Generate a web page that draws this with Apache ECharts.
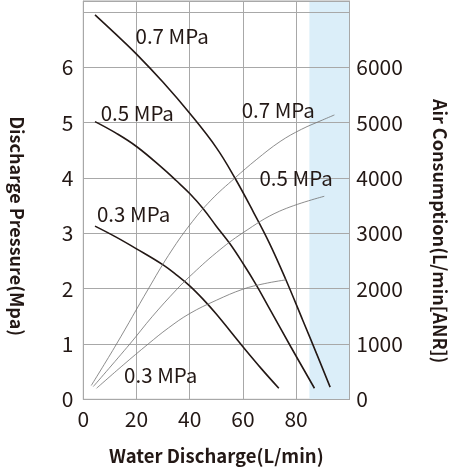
<!DOCTYPE html>
<html><head><meta charset="utf-8">
<script src="https://cdn.jsdelivr.net/npm/echarts@6/dist/echarts.min.js"></script>
<style>html,body{margin:0;padding:0;background:#fff}#c{width:466px;height:470px}</style>
</head><body><div id="c"></div>
<script>
// Discharge pressure curves (x: water discharge L/min, y: discharge pressure)
const pressure07 = [[4.4,6.95],[12,6.61],[20,6.24],[30,5.73],[40,5.17],[50,4.55],[57,4.0],[64,3.38],[70,2.82],[76,2.18],[82.5,1.43],[88,0.79],[92.8,0.22]];
const pressure05 = [[4.4,5.02],[12,4.82],[20,4.57],[30,4.17],[35,3.95],[40,3.72],[45,3.45],[50,3.13],[55,2.82],[60,2.46],[65,2.07],[70,1.64],[78,0.95],[86.9,0.2]];
const pressure03 = [[4.4,3.13],[12,2.94],[20,2.72],[30,2.43],[35,2.25],[40,2.05],[45,1.81],[50,1.54],[60,0.95],[67,0.55],[73.5,0.2]];
// Air consumption curves (x: water discharge L/min, y: L/min[ANR])
const air07 = [[3,250],[12.5,1000],[24.5,2000],[32,2600],[40,3150],[48,3600],[57,4000],[65,4330],[74,4660],[82,4880],[90,5050],[94.4,5140]];
const air05 = [[3.75,230],[17.5,1000],[26,1500],[35,1980],[40,2220],[50,2650],[60,3010],[73.75,3400],[90.6,3670]];
const air03 = [[5,200],[15,620],[24.4,1000],[32,1290],[40,1550],[50,1790],[60,1990],[68,2090],[76.25,2160]];
// Curve labels
const pressureLabels = ['0.7 MPa','0.5 MPa','0.3 MPa'];
const pressureLabelAt = [[33.4,6.57],[20.3,5.17],[18.9,3.35]];
const airLabels = ['0.7 MPa','0.5 MPa','0.3 MPa'];
const airLabelAt = [[73.3,5220],[80,4000],[29.1,430]];
// Axis ticks
const xTicks = [0,20,40,60,80];
const leftTicks = [0,1,2,3,4,5,6];
const rightTicks = [0,1000,2000,3000,4000,5000,6000];
const shadedRange = [85,100];

const FONT = '"Noto Sans CJK JP","Noto Sans",sans-serif';
const TXT = '#231815';
const GRIDC = '#a8a8a8';

function labelMark(text, at){
  return {
    symbol:'circle', symbolSize:0, silent:true,
    label:{show:true, position:'inside', formatter:text, color:TXT, fontSize:20.5, fontFamily:FONT},
    data:[{coord:at, value:text}]
  };
}
const pSets=[pressure07,pressure05,pressure03];
const aSets=[air07,air05,air03];
const series=[];
series.push({type:'line', data:[], xAxisIndex:0, yAxisIndex:0, silent:true,
  markArea:{silent:true, itemStyle:{color:'#dbeef9'}, data:[[{xAxis:shadedRange[0]},{xAxis:shadedRange[1]}]]}});
pSets.forEach((d,i)=>series.push({type:'line', data:d, yAxisIndex:0, showSymbol:false, smooth:0.4,
  lineStyle:{color:'#231815', width:1.6}, markPoint:labelMark(pressureLabels[i], pressureLabelAt[i])}));
aSets.forEach((d,i)=>series.push({type:'line', data:d, yAxisIndex:1, showSymbol:false, smooth:0.4,
  lineStyle:{color:'#707070', width:0.8}, markPoint:labelMark(airLabels[i], airLabelAt[i])}));

const chart = echarts.init(document.getElementById('c'), null, {renderer:'canvas'});
chart.setOption({
  animation:false,
  grid:{left:83.3, right:116.7, top:1, bottom:70.7, show:true, borderColor:GRIDC, borderWidth:1},
  xAxis:{type:'value', min:0, max:100, interval:20, z:3,
    name:'Water Discharge(L/min)', nameLocation:'middle', nameGap:47,
    nameTextStyle:{fontFamily:FONT, fontWeight:'bold', fontSize:18.5, color:TXT},
    axisLine:{lineStyle:{color:GRIDC, width:1}}, axisTick:{show:false},
    axisLabel:{margin:9, fontSize:21, color:TXT, fontFamily:FONT, formatter:v=>xTicks.includes(v)?String(v):''},
    splitLine:{show:true, lineStyle:{color:GRIDC, width:1}}},
  yAxis:[
    {type:'value', min:0, max:7.2, interval:1, position:'left', z:3,
     name:'Discharge Pressure(Mpa)', nameLocation:'middle', nameRotate:-90, nameGap:57,
     nameTextStyle:{fontFamily:FONT, fontWeight:'bold', fontSize:18, color:TXT, padding:[0,0,0,52]},
     axisLine:{show:true, lineStyle:{color:GRIDC, width:1}}, axisTick:{show:false},
     axisLabel:{margin:10, fontSize:21, color:TXT, fontFamily:FONT, formatter:v=>leftTicks.includes(v)?String(v):''},
     splitLine:{show:true, lineStyle:{color:GRIDC, width:1}}},
    {type:'value', min:0, max:7200, interval:1000, position:'right', z:3,
     name:'Air Consumption(L/min[ANR])', nameLocation:'middle', nameRotate:-90, nameGap:82,
     nameTextStyle:{fontFamily:FONT, fontWeight:'bold', fontSize:18, color:TXT, padding:[0,0,0,62]},
     axisLine:{show:true, lineStyle:{color:GRIDC, width:1}}, axisTick:{show:false},
     axisLabel:{margin:7, fontSize:21, color:TXT, fontFamily:FONT, formatter:v=>rightTicks.includes(v)?String(v):''},
     splitLine:{show:false}}
  ],
  series:series
});
</script></body></html>
